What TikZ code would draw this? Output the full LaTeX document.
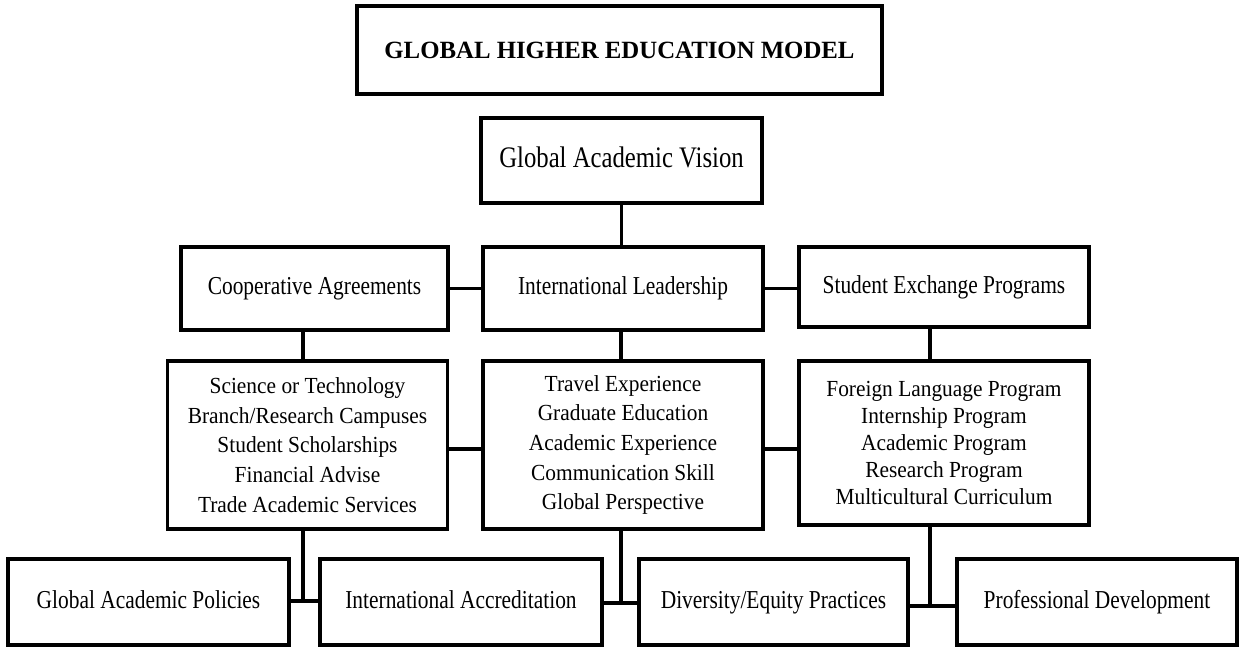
\documentclass[tikz,border=0pt]{standalone}
\usepackage{fontspec}
\setmainfont{Liberation Serif}
\newfontfamily\boxfont[FakeStretch=0.83]{Liberation Serif}
\newfontfamily\listfont[FakeStretch=0.93]{Liberation Serif}
\usetikzlibrary{positioning, calc}

\begin{document}
\begin{tikzpicture}[
    x=0.5pt, y=-0.5pt,
    box/.style={rectangle, draw, line width=1.6pt, fill=white, align=center, inner sep=0pt, font=\boxfont\fontsize{12.9}{15}\selectfont},
    onebox/.style={box, text height=8.9pt, text depth=2.9pt},
    topbox/.style={onebox, minimum width=140.5pt, minimum height=42.5pt, text height=10.3pt, text depth=3.3pt, font=\boxfont\fontsize{14.9}{17}\selectfont},
    headbox/.style={onebox, minimum height=41.5pt},
    listbox/.style={box, minimum height=84pt, font=\listfont\fontsize{11.5}{14.85}\selectfont},
    basebox/.style={onebox, minimum height=43pt},
    link/.style={line width=1.6pt}
  ]
    \useasboundingbox (0,0) rectangle (1239,647);

    % Title
    \node[box, minimum width=262.5pt, minimum height=44pt, font=\rmfamily\fontsize{12.4}{15}\selectfont\bfseries] (title) at (619.5,50) {GLOBAL HIGHER EDUCATION MODEL};

    % Vision
    \node[topbox] (vision) at (621.5,160.5) {Global Academic Vision};

    % Second row
    \node[headbox, minimum width=133.5pt] (coop) at (314.5,288.5) {Cooperative Agreements};
    \node[headbox, minimum width=140pt] (intl) at (623,288.5) {International Leadership};
    \node[headbox, minimum width=145pt, minimum height=40pt] (exch) at (944,287) {Student Exchange Programs};

    % Third row
    \node[listbox, minimum width=140pt] (coopl) at (307.5,445) {Science or Technology\\Branch/Research Campuses\\Student Scholarships\\Financial Advise\\Trade Academic Services};
    \node[listbox, minimum width=140pt] (intll) at (623,445) {Travel Experience\\Graduate Education\\Academic Experience\\Communication Skill\\Global Perspective};
    \node[listbox, minimum width=145pt, minimum height=82pt, font=\listfont\fontsize{11.5}{13.5}\selectfont] (exchl) at (944,443) {Foreign Language Program\\Internship Program\\Academic Program\\Research Program\\Multicultural Curriculum};

    % Bottom row
    \node[basebox, minimum width=140.5pt] (policy) at (148.5,602) {Global Academic Policies};
    \node[basebox, minimum width=141pt] (accred) at (461,602) {International Accreditation};
    \node[basebox, minimum width=134.5pt] (equity) at (773.5,602) {Diversity/Equity Practices};
    \node[basebox, minimum width=140pt] (profdev) at (1097,602) {Professional Development};

    % Junctions
    \coordinate (jl) at (303,601);
    \coordinate (jm) at (621,603);
    \coordinate (jr) at (930,606);

    % Connectors
    \draw[link] (vision.south) -- (vision.south |- intl.north);
    \draw[link] (coop.east) -- (intl.west);
    \draw[link] (intl.east) -- (intl.east -| exch.west);
    \draw[link] (coop.south -| jl) -- (coopl.north -| jl);
    \draw[link] (intl.south -| jm) -- (intll.north -| jm);
    \draw[link] (exch.south -| jr) -- (exchl.north -| jr);
    \draw[link] ([yshift=-2pt]coopl.east) -- ([yshift=-2pt]intll.west);
    \draw[link] ([yshift=-2pt]intll.east) -- ([yshift=-2pt]intll.east -| exchl.west);
    \draw[link] (coopl.south -| jl) -- (jl);
    \draw[link] (intll.south -| jm) -- (jm);
    \draw[link] (exchl.south -| jr) -- (jr);
    \draw[link] (policy.east |- jl) -- (accred.west |- jl);
    \draw[link] (accred.east |- jm) -- (equity.west |- jm);
    \draw[link] (equity.east |- jr) -- (profdev.west |- jr);
  \end{tikzpicture}
\end{document}
